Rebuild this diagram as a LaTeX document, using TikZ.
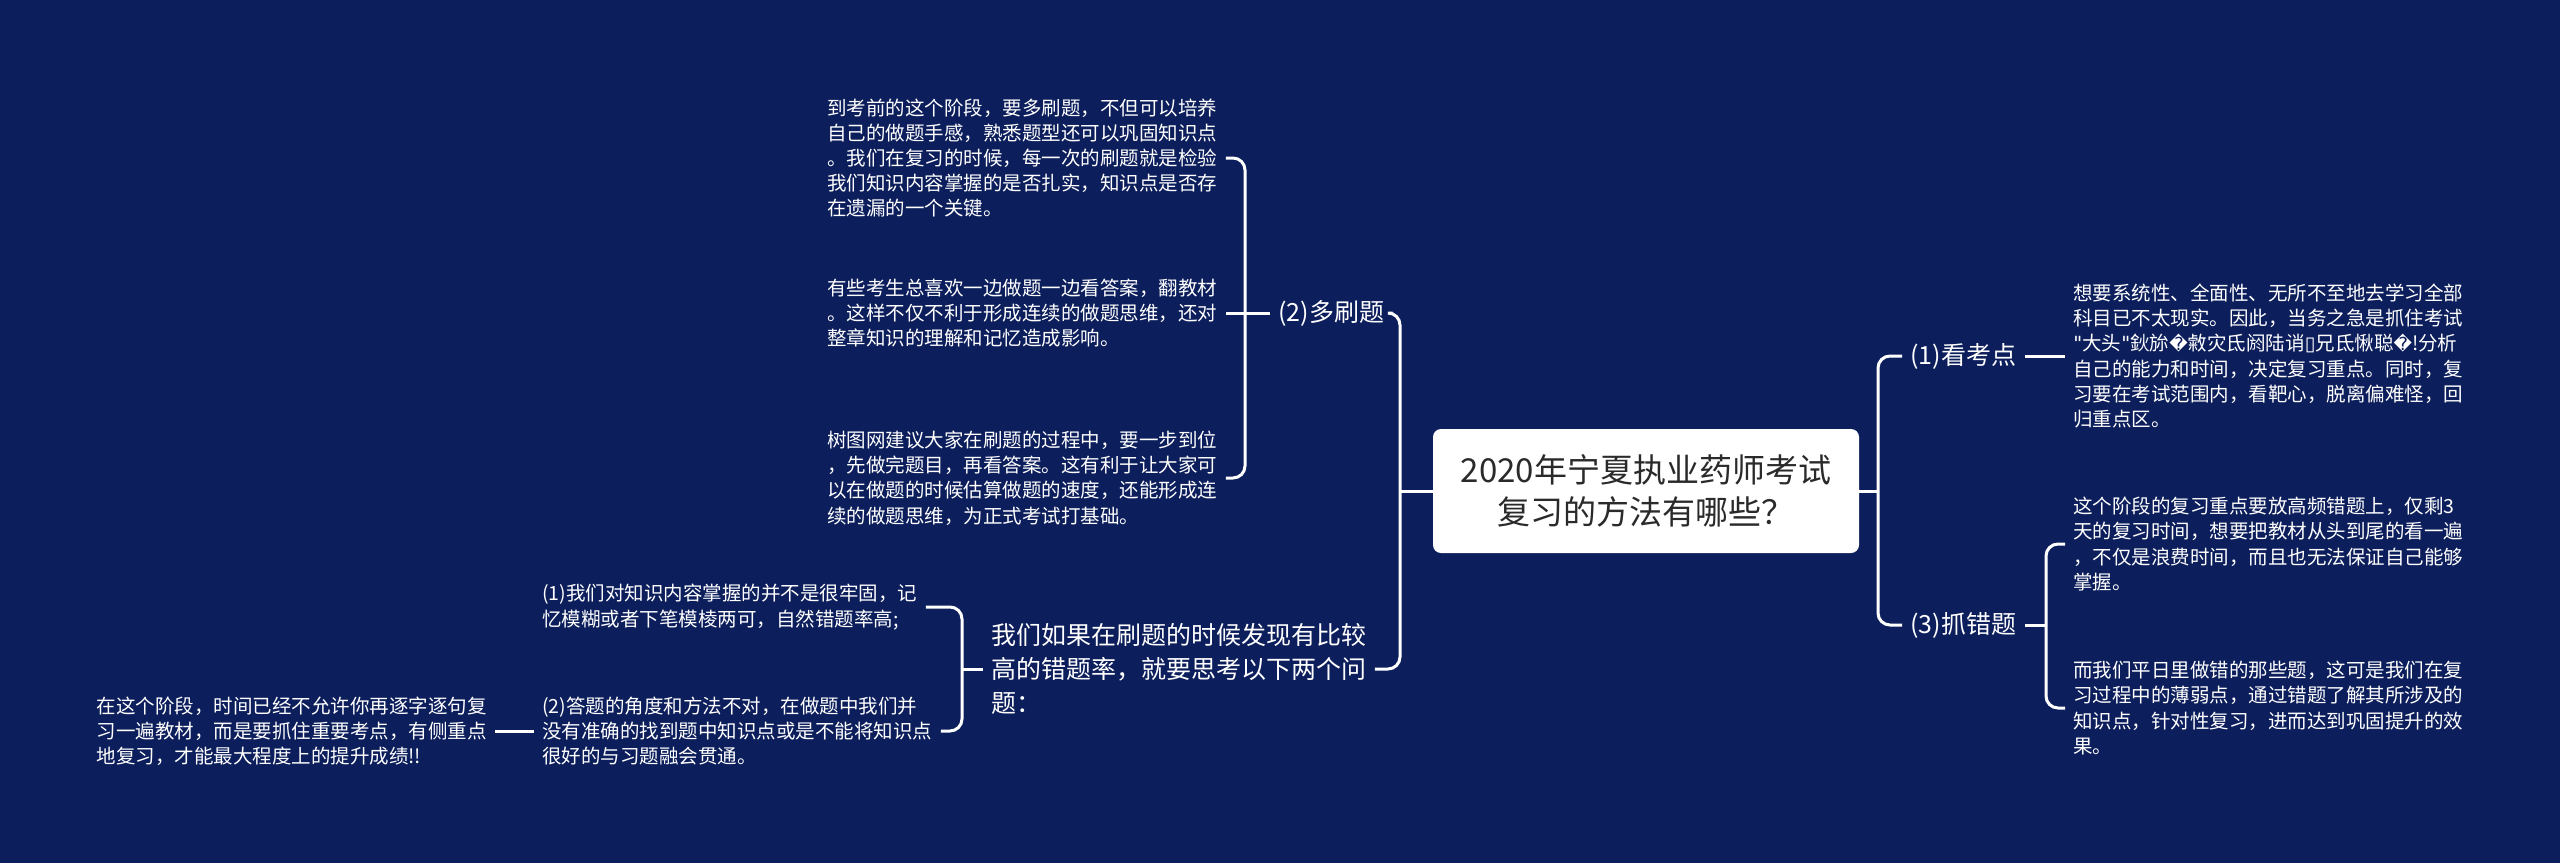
\documentclass[tikz,border=0pt]{standalone}
\usepackage{fontspec}
\setmainfont{Noto Sans CJK SC}
\newfontfamily\glyphfont{DejaVu Sans}
\usetikzlibrary{positioning,calc}
\definecolor{bgnavy}{HTML}{0C1E5B}
\definecolor{roottext}{HTML}{2A2A2A}

\begin{document}
\begin{tikzpicture}[
        x=0.5pt, y=-0.5pt, % one unit = one pixel of the picture, y grows downwards
        link/.style = {draw=white, line width=1.5pt, rounded corners=6pt},
        rootbox/.style = {fill=white, rounded corners=4pt, text=roottext, align=center,
                minimum width=213pt, minimum height=62pt, inner sep=0pt,
                font=\fontsize{16.5pt}{21pt}\selectfont},
        branchtext/.style = {text=white, inner sep=0pt, align=left, font=\fontsize{12.5pt}{17pt}\selectfont},
        leaftext/.style = {text=white, inner sep=0pt, align=left, font=\fontsize{9.75pt}{12.6pt}\selectfont},
    ]

    \fill[bgnavy] (0,0) rectangle (2560,863);

    % centre
    \node[rootbox] (root) at (1646,491) {2020年宁夏执业药师考试\\复习的方法有哪些？};

    % left side
    \node[branchtext, anchor=west] (two) at (1278,313) {(2)多刷题};
    \node[branchtext, anchor=west] (ques) at (991,669) {我们如果在刷题的时候发现有比较\\高的错题率，就要思考以下两个问\\题：};

    \node[leaftext, anchor=west] (lfa) at (827,158) {到考前的这个阶段，要多刷题，不但可以培养\\自己的做题手感，熟悉题型还可以巩固知识点\\。我们在复习的时候，每一次的刷题就是检验\\我们知识内容掌握的是否扎实，知识点是否存\\在遗漏的一个关键。};
    \node[leaftext, anchor=west] (lfb) at (827,313) {有些考生总喜欢一边做题一边看答案，翻教材\\。这样不仅不利于形成连续的做题思维，还对\\整章知识的理解和记忆造成影响。};
    \node[leaftext, anchor=west] (lfc) at (827,478) {树图网建议大家在刷题的过程中，要一步到位\\，先做完题目，再看答案。这有利于让大家可\\以在做题的时候估算做题的速度，还能形成连\\续的做题思维，为正式考试打基础。};

    \node[leaftext, anchor=west] (lfd) at (542,607) {(1)我们对知识内容掌握的并不是很牢固，记\\忆模糊或者下笔模棱两可，自然错题率高;};
    \node[leaftext, anchor=west] (lfe) at (542,731) {(2)答题的角度和方法不对，在做题中我们并\\没有准确的找到题中知识点或是不能将知识点\\很好的与习题融会贯通。};
    \node[leaftext, anchor=east] (lff) at (487,731) {在这个阶段，时间已经不允许你再逐字逐句复\\习一遍教材，而是要抓住重要考点，有侧重点\\地复习，才能最大程度上的提升成绩!!};

    % right side
    \node[branchtext, anchor=west] (one) at (1910,356) {(1)看考点};
    \node[branchtext, anchor=west] (three) at (1910,625) {(3)抓错题};

    \node[leaftext, anchor=west] (lfg) at (2073,356) {想要系统性、全面性、无所不至地去学习全部\\科目已不太现实。因此，当务之急是抓住考试\\{\glyphfont "}大头{\glyphfont "}鈥旀{\glyphfont\small �}敹灾氐阏陆诮{\glyphfont ▯}兄氐愀聪{\glyphfont\small �}!分析\\自己的能力和时间，决定复习重点。同时，复\\习要在考试范围内，看靶心，脱离偏难怪，回\\归重点区。};
    \node[leaftext, anchor=west] (lfh) at (2073,544) {这个阶段的复习重点要放高频错题上，仅剩3\\天的复习时间，想要把教材从头到尾的看一遍\\，不仅是浪费时间，而且也无法保证自己能够\\掌握。};
    \node[leaftext, anchor=west] (lfi) at (2073,708) {而我们平日里做错的那些题，这可是我们在复\\习过程中的薄弱点，通过错题了解其所涉及的\\知识点，针对性复习，进而达到巩固提升的效\\果。};

    % trunks
    \coordinate (ltrunk) at (1400,491);
    \coordinate (rtrunk) at (1878,491);
    \coordinate (ttrunk) at (1245,313);
    \coordinate (qtrunk) at (962,669);
    \coordinate (etrunk) at (2046,625);

    \draw[link] (root.west) -- (ltrunk);
    \draw[link] ([xshift=4pt]two.east) -- (two.east -| ltrunk) -- (ques.east -| ltrunk) -- ([xshift=4pt]ques.east);
    \draw[link] (root.east) -- (rtrunk);
    \draw[link] ([xshift=-4pt]one.west) -- (one.west -| rtrunk) -- (three.west -| rtrunk) -- ([xshift=-4pt]three.west);

    \draw[link] ([xshift=-4pt]two.west) -- (ttrunk);
    \draw[link] ([xshift=4pt]lfa.east) -- (lfa.east -| ttrunk) -- (lfc.east -| ttrunk) -- ([xshift=4pt]lfc.east);
    \draw[link] ([xshift=4pt]lfb.east) -- (ttrunk);

    \draw[link] ([xshift=-4pt]ques.west) -- (qtrunk);
    \draw[link] ([xshift=4pt]lfd.east) -- (lfd.east -| qtrunk) -- (lfe.east -| qtrunk) -- ([xshift=4pt]lfe.east);
    \draw[link] ([xshift=-4pt]lfe.west) -- ([xshift=4pt]lff.east);

    \draw[link] ([xshift=4pt]one.east) -- ([xshift=-4pt]lfg.west);
    \draw[link] ([xshift=4pt]three.east) -- (etrunk);
    \draw[link] ([xshift=-4pt]lfh.west) -- (lfh.west -| etrunk) -- (lfi.west -| etrunk) -- ([xshift=-4pt]lfi.west);

\end{tikzpicture}
\end{document}
